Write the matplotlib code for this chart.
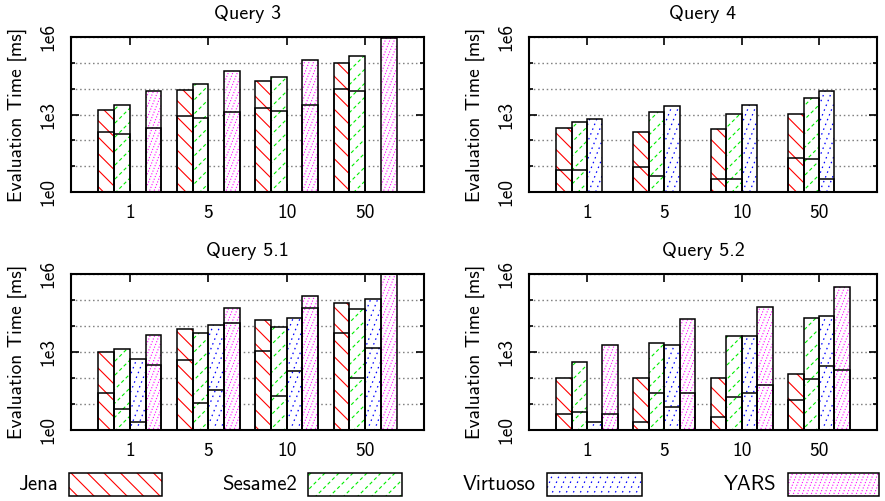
import numpy as np
import matplotlib
matplotlib.use('Agg')
import matplotlib.pyplot as plt
from matplotlib.path import Path
from matplotlib.collections import LineCollection
from matplotlib.transforms import IdentityTransform
from matplotlib.patches import Rectangle

plt.rcParams['font.family'] = ['cmss10', 'DejaVu Sans']
plt.rcParams['axes.unicode_minus'] = False
plt.rcParams['lines.scale_dashes'] = False
plt.rcParams['axes.formatter.use_mathtext'] = False

nan = np.nan
groups = ['1', '5', '10', '50']
systems = ['Jena', 'Sesame2', 'Virtuoso', 'YARS']
titles = ['Query 3', 'Query 4', 'Query 5.1', 'Query 5.2']

# total evaluation time per system (rows: Jena, Sesame2, Virtuoso, YARS)
q3_total = [[1550, 8600, 19200, 102000],
            [2400, 15600, 27500, 190000],
            [nan, nan, nan, nan],
            [8300, 50000, 132000, 940000]]
q3_inner = [[204, 880, 1780, 9700],
            [180, 730, 1410, 7900],
            [nan, nan, nan, nan],
            [290, 1210, 2330, nan]]

q4_total = [[290, 216, 266, 1020],
            [510, 1250, 1020, 4350],
            [690, 2140, 2400, 8300],
            [nan, nan, nan, nan]]
q4_inner = [[7.3, 9.6, 3.1, 21],
            [7.3, 4.2, 3.1, 19.5],
            [nan, nan, nan, 3.1],
            [nan, nan, nan, nan]]

q51_total = [[960, 7600, 17000, 74000],
             [1290, 5200, 8900, 46000],
             [515, 10900, 20300, 106000],
             [4600, 48000, 138000, 1300000]]
q51_inner = [[27, 500, 1050, 5200],
             [6.3, 10.7, 20, 101],
             [2.0, 34, 183, 1410],
             [310, 13000, 50600, nan]]

q52_total = [[98, 98, 98, 140],
             [410, 2200, 4200, 20300],
             [2.0, 1830, 4000, 24000],
             [1830, 18500, 54000, 316000]]
q52_inner = [[4.3, 2.1, 3.2, 14],
             [5.1, 27.5, 18, 95],
             [nan, 7.5, 26, 285],
             [4.3, 27.5, 53, 200]]

totals = [q3_total, q4_total, q51_total, q52_total]
inners = [q3_inner, q4_inner, q51_inner, q52_inner]

# hatch styles: color, slope, horizontal spacing (px), dash pattern (pt)
styles = [
    dict(color='#ff0000', k=-1.0, s=16.5, ls='-', lw=0.8),
    dict(color='#00ee00', k=1.0, s=14.0, ls=(0, (2.5, 2.0)), lw=0.8),
    dict(color='#0000ff', k=2.5, s=7.0, ls=(0, (1.1, 2.6)), lw=0.9),
    dict(color='#ff00ff', k=2.5, s=4.5, ls=(0, (0.8, 1.3)), lw=0.8),
]

W, H = 885, 501
fig = plt.figure(figsize=(W / 100, H / 100), dpi=100)
FS = 14
FS_T = 14.5
FS_L = 15


def hatch_lines(style):
    k, s = style['k'], style['s']
    segs = []
    dv = abs(k) * s
    if k > 0:
        cs = np.arange(-k * W, H + dv, dv)
    else:
        cs = np.arange(0, H - k * W + dv, dv)
    for c in cs:
        segs.append([(0, c), (W, k * W + c)])
    return segs


def add_hatch(ax, patches, style, ymax=None):
    paths = []
    for p in patches:
        v = p.get_patch_transform().transform(p.get_path().vertices)
        if ymax is not None:
            v[:, 1] = np.minimum(v[:, 1], ymax)
        paths.append(Path(v, p.get_path().codes))
    if not paths:
        return
    cp = Path.make_compound_path(*paths)
    lc = LineCollection(hatch_lines(style), colors=style['color'],
                        linewidths=style['lw'], linestyles=[style['ls']],
                        transform=IdentityTransform(), zorder=2.1)
    lc.set_clip_path(cp, ax.transData)
    ax.add_collection(lc, autolim=False)


# axes rectangles in pixels: left, top, right, bottom
rects = [(71, 37, 424, 192), (529, 37, 877, 192),
         (71, 274, 424, 430), (529, 274, 877, 430)]
width = 0.2
x = np.arange(len(groups))
offsets = [-1.5, -0.5, 0.5, 1.5]

for qi in range(4):
    l, t, r, b = rects[qi]
    ax = fig.add_axes([l / W, 1 - b / H, (r - l) / W, (b - t) / H])
    ax.set_yscale('log')
    ax.set_ylim(1, 1e6)
    ax.set_xlim(-0.75, 3.75)
    for si in range(4):
        tot = np.array(totals[qi][si], dtype=float)
        inn = np.array(inners[qi][si], dtype=float)
        xs = x + offsets[si] * width
        ok = ~np.isnan(tot)
        if not ok.any():
            continue
        bars = ax.bar(xs[ok], tot[ok] - 1, width, bottom=1, color='white',
                      edgecolor='none', zorder=2)
        add_hatch(ax, bars.patches, styles[si], ymax=1e6)
        ax.bar(xs[ok], tot[ok] - 1, width, bottom=1, facecolor='none',
               edgecolor='black', linewidth=1.1, zorder=2.2)
        ok2 = ~np.isnan(inn)
        if ok2.any():
            ax.bar(xs[ok2], inn[ok2] - 1, width, bottom=1, facecolor='none',
                   edgecolor='black', linewidth=1.1, zorder=2.2)
    ax.set_yticks([1, 1e3, 1e6])
    ax.set_yticklabels(['1e0', '1e3', '1e6'], rotation=90, va='center',
                       fontsize=FS)
    ax.set_yticks([10, 100, 1e4, 1e5], minor=True)
    ax.yaxis.set_minor_formatter(matplotlib.ticker.NullFormatter())
    ax.set_xticks(x)
    ax.set_xticklabels(groups, fontsize=FS)
    ax.tick_params(which='both', direction='in', top=True, right=True,
                   width=1.2)
    ax.tick_params(which='major', length=5.5)
    ax.tick_params(which='minor', length=3)
    ax.tick_params(axis='y', pad=10)
    ax.tick_params(axis='x', pad=9)
    for sp in ax.spines.values():
        sp.set_linewidth(1.5)
    ax.set_axisbelow(True)
    ax.yaxis.grid(True, which='both', color='#808080',
                  linestyle=(0, (1.1, 2.0)), linewidth=1.0, zorder=0.5)
    fig.text((l + r) / 2 / W, 1 - (t - 23) / H, titles[qi], ha='center',
             va='center', fontsize=FS_T)
    fig.text((l - 54) / W, 1 - (t + b) / 2 / H, 'Evaluation Time [ms]',
             rotation=90, ha='center', va='center', fontsize=FS)

# legend
lax = fig.add_axes([0, 0, 1, 40 / H])
lax.set_xlim(0, W)
lax.set_ylim(0, 40)
lax.axis('off')
box_left = [69, 308, 547, 788]
box_right = [162, 402, 642, 879]
for si in range(4):
    rp = Rectangle((box_left[si], 5), box_right[si] - box_left[si], 23,
                   facecolor='white', edgecolor='none', zorder=2)
    lax.add_patch(rp)
    add_hatch(lax, [rp], styles[si])
    lax.add_patch(Rectangle((box_left[si], 5), box_right[si] - box_left[si], 23,
                            facecolor='none', edgecolor='black', linewidth=1.1,
                            zorder=2.2))
    lax.text(box_left[si] - 11, 16.5, systems[si], ha='right', va='center',
             fontsize=FS_L)

fig.savefig('out.png', dpi=100)
